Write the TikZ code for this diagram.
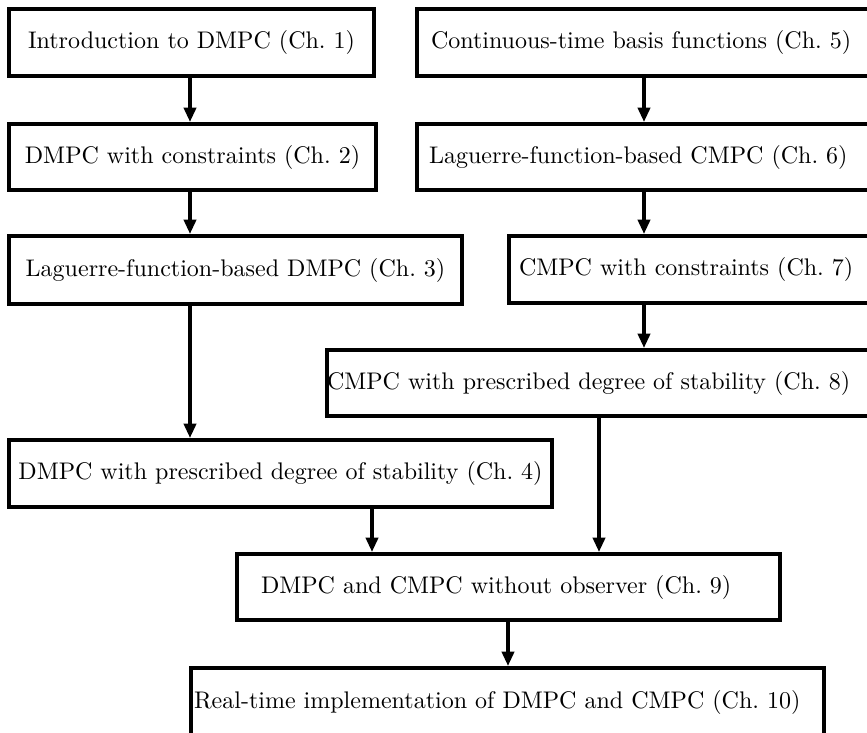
\documentclass[tikz,border=0pt]{standalone}
\usetikzlibrary{arrows.meta}
\newlength\pxu
\setlength\pxu{0.4164pt}
\begin{document}
\begin{tikzpicture}[x=0.4164pt,y=-0.4164pt,
  box/.style={draw, line width=1.6pt, inner sep=0pt, rectangle, align=center},
  arr/.style={line width=1.6pt, -{Triangle[length=6pt,width=5pt]}},
  thickarr/.style={line width=2pt, -{Triangle[length=6pt,width=5pt]}}]
\useasboundingbox (0,0) rectangle (867,733);
\clip (0,0) rectangle (867,733);
% left column
\node[box, minimum width=365\pxu, minimum height=67\pxu] (b1) at (191.5,42.5) {Introduction to DMPC (Ch.~1)};
\node[box, minimum width=367\pxu, minimum height=66\pxu] (b2) at (192.5,157) {DMPC with constraints (Ch.~2)};
\node[box, minimum width=453\pxu, minimum height=68\pxu] (b3) at (235.5,270) {Laguerre-function-based DMPC (Ch.~3)};
\node[box, minimum width=543\pxu, minimum height=67\pxu] (b4) at (280.5,473.5) {DMPC with prescribed degree of stability (Ch.~4)};
% right column (runs past the right edge of the picture)
\node[box, text width=468\pxu, align=left, minimum height=67\pxu] (b5) at (651,42.5) {\hspace*{14\pxu}Continuous-time basis functions (Ch.~5)};
\node[box, text width=468\pxu, align=left, minimum height=66\pxu] (b6) at (651,157) {\hspace*{12\pxu}Laguerre-function-based CMPC (Ch.~6)};
\node[box, text width=376\pxu, align=left, minimum height=67\pxu] (b7) at (697,269.5) {\hspace*{10\pxu}CMPC with constraints (Ch.~7)};
\node[box, text width=558\pxu, align=left, minimum height=66\pxu] (b8) at (606,383) {CMPC with prescribed degree of stability (Ch.~8)};
% bottom
\node[box, text width=543\pxu, align=left, minimum height=66\pxu] (b9) at (508.5,587) {\hspace*{24\pxu}DMPC and CMPC without observer (Ch.~9)};
\node[box, text width=633\pxu, align=left, minimum height=69\pxu] (b10) at (507.5,702.5) {\hspace*{3\pxu}Real-time implementation of DMPC and CMPC (Ch.~10)};
% connector x positions
\coordinate (cL) at (190,0);
\coordinate (cR) at (644,0);
\coordinate (cA) at (372,0);
\coordinate (cB) at (599,0);
\coordinate (cC) at (508,0);
% connectors
\draw[arr] (b1.south -| cL) -- (b2.north -| cL);
\draw[arr] (b2.south -| cL) -- (b3.north -| cL);
\draw[arr] (b3.south -| cL) -- (b4.north -| cL);
\draw[arr] (b5.south -| cR) -- (b6.north -| cR);
\draw[arr] (b6.south -| cR) -- (b7.north -| cR);
\draw[arr] (b7.south -| cR) -- (b8.north -| cR);
\draw[arr] (b4.south -| cA) -- (b9.north -| cA);
\draw[thickarr] (b8.south -| cB) -- (b9.north -| cB);
\draw[arr] (b9.south -| cC) -- (b10.north -| cC);
\end{tikzpicture}
\end{document}
